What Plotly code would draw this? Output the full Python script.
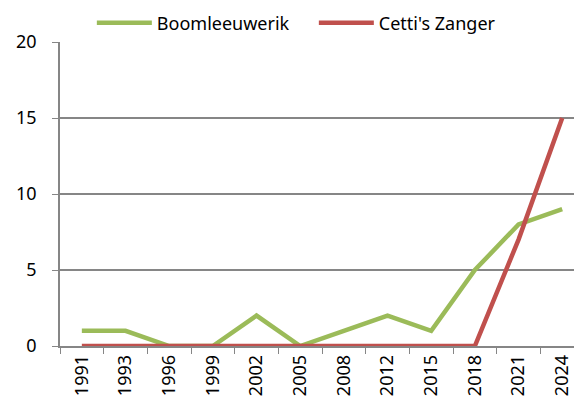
import plotly.graph_objects as go

years = ["1991", "1993", "1996", "1999", "2002", "2005", "2008", "2012", "2015", "2018", "2021", "2024"]
boomleeuwerik = [1, 1, 0, 0, 2, 0, 1, 2, 1, 5, 8, 9]
cetti = [0, 0, 0, 0, 0, 0, 0, 0, 0, 0, 7, 15]

fig = go.Figure()
fig.add_trace(go.Scatter(x=years, y=boomleeuwerik, mode="lines", name="Boomleeuwerik",
                         line=dict(color="#9BBB59", width=4.5)))
fig.add_trace(go.Scatter(x=years, y=cetti, mode="lines", name="Cetti's Zanger",
                         line=dict(color="#C0504D", width=4.5)))

font = "Noto Sans"
fig.update_layout(
    width=574, height=410,
    margin=dict(l=60, r=0, t=42, b=64, autoexpand=False),
    paper_bgcolor="white", plot_bgcolor="white",
    font=dict(family=font, size=18, color="black"),
    showlegend=True,
    legend=dict(orientation="h", xref="container", yref="container",
                x=0.16, xanchor="left", y=0.944, yanchor="middle",
                font=dict(size=18), itemwidth=55, tracegroupgap=0,
                entrywidth=152, entrywidthmode="pixels"),
    xaxis=dict(type="category", range=[-0.5, 11.27], tickson="boundaries",
               ticks="outside", ticklen=6, tickcolor="#868686", automargin=False,
               showline=True, linecolor="#868686", linewidth=1.5,
               showgrid=False, tickangle=-90, tickfont=dict(size=18)),
    yaxis=dict(range=[0, 20], dtick=5, ticks="outside", ticklen=6, tickcolor="#868686",
               showline=True, linecolor="#868686", linewidth=1.5, automargin=False,
               showgrid=True, gridcolor="#868686", gridwidth=1.5,
               zeroline=False, tickfont=dict(size=18), ticklabelstandoff=12),
)

fig.write_html("out.html", config={"displayModeBar": False},
               post_script="document.body.style.margin='0';document.body.style.overflow='hidden';")
